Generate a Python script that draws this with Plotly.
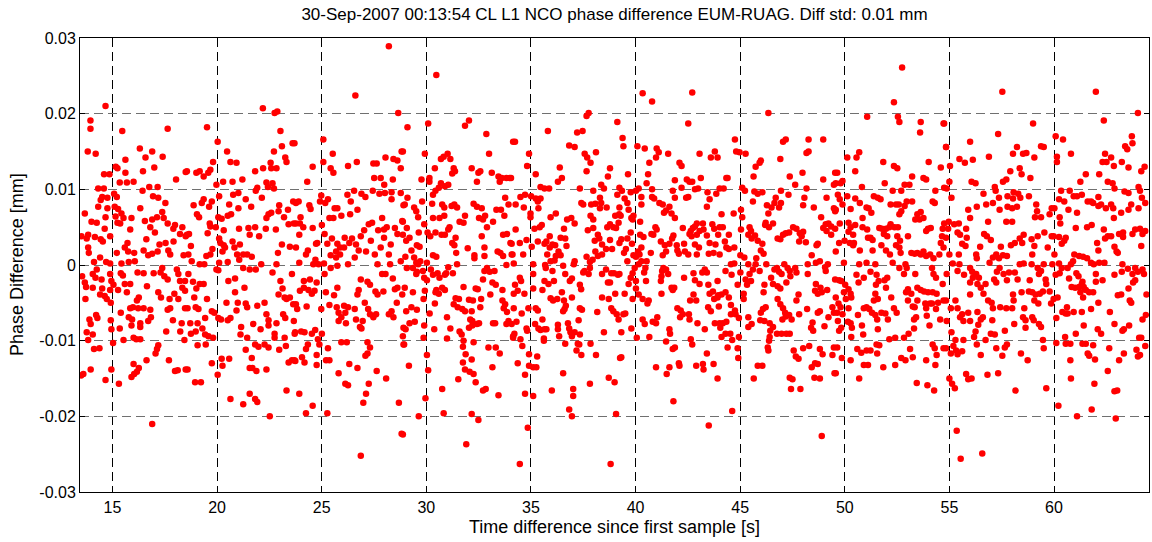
import plotly.graph_objects as go

# Phase difference samples: (time [s], phase difference [micrometre])
seg_a = [(14.67,21.0),(13.95,19.1),(13.95,18.0),(15.47,17.7),(17.64,18.0),(13.82,15.0),(14.20,14.7),(16.31,15.4),(16.9,15.0),(16.58,14.2),(17.4,14.3),(15.62,13.9),(15.16,13.0),(15.24,12.8),(17.0,12.9),(16.46,12.4),(15.62,12.2),(14.6,12.0),(14.86,12.0),(18.5,12.3),(18.04,11.3),(15.35,10.9),(15.69,10.9),(16.01,11.0),
(14.32,10.1),(14.59,10.1),(15.08,9.4),(15.21,9.0),(16.44,9.8),(16.76,10.3),(17.16,10.3),(16.94,9.1),(17.19,8.9),(14.51,9.0),(14.76,8.9),(14.44,8.6),(17.53,8.2),(14.32,7.7),(14.76,7.5),(15.11,7.7),(15.27,7.4),(16.33,7.5),(13.68,6.8),(17.38,7.0),(17.45,6.2),(17.13,6.3),(16.9,6.0),(15.15,6.4),(15.53,6.2),(15.43,6.8),(15.91,6.2),(14.67,6.3),(14.0,5.7),(14.25,5.6),(14.63,4.8),(14.89,3.8),(15.24,5.6),(15.37,5.5),(15.85,4.7),(16.55,5.8),(16.81,5.0),(17.03,4.3),(17.64,5.5),(17.91,4.8),(17.99,5.3),(18.23,4.1),(18.34,5.0),(18.5,3.8),(13.84,4.0),(13.77,3.5),(14.16,3.7),(14.44,3.4),(14.54,3.1),(15.72,2.9),(15.59,2.3),(15.75,1.8),(16.04,1.6),(16.49,1.9),(16.62,3.4),(16.71,1.3),(16.9,1.5),(17.16,1.8),(17.25,2.7),(17.54,2.9),(17.67,1.9),(17.76,1.4),(17.92,3.1),(18.4,1.3),(13.84,2.3),(13.87,1.6),(14.41,1.0),(14.12,0.4),(14.7,0.4),(14.89,0.2),(15.21,1.6),(15.43,0.2),(15.78,0.4),(16.07,0.5),
(14.25,-0.6),(14.06,-1.2),(14.19,-1.7),(13.68,-2.3),(13.74,-2.9),(14.06,-3.0),(14.48,-1.9),(14.51,-3.1),(14.41,-3.9),(14.63,-4.1),(14.73,-4.5),(14.89,-1.2),(14.95,-2.1),(15.05,-2.6),(14.89,-3.3),(14.92,-5.0),(15.27,-3.3),(15.4,-1.1),(15.5,-1.4),(15.59,-2.5),(15.69,-3.6),(15.85,-2.5),(16.2,-1.0),(16.49,-1.1),(16.65,-2.8),(16.26,-4.3),(16.17,-4.7),(16.97,-1.1),(17.3,-1.0),(17.38,-0.4),(17.48,-1.5),(17.64,-1.9),(17.19,-3.6),(17.32,-4.3),(17.73,-4.5),(17.96,-3.8),(18.08,-0.6),(18.15,-1.2),(18.23,-2.1),(18.34,-3.0),(18.15,-4.5),(18.47,-2.1),(18.47,-3.4),(13.71,-4.5),(15.4,-6.3),(15.85,-5.7),(15.98,-5.6),(16.23,-5.7),(16.49,-5.7),(16.81,-5.9),(15.78,-6.9),(15.94,-7.2),(15.91,-8.0),(16.33,-7.7),(16.33,-8.2),(16.84,-6.9),(16.71,-7.4),(17.64,-5.9),(17.76,-5.7),(17.89,-7.3),(18.47,-5.7),(13.9,-7.2),(13.96,-7.8),(14.22,-6.6),(14.28,-7.0),(14.92,-7.3),(14.95,-8.5),(15.35,-8.4),(13.77,-8.9),(14.06,-9.2),(13.84,-9.9),(15.03,-10.3),(15.53,-9.9),(16.01,-9.6),(16.14,-9.8),(16.33,-9.8),(17.57,-8.8),(18.24,-8.8),(18.31,-7.7),(18.44,-9.9),
(14.12,-11.1),(14.38,-11.0),(17.19,-10.6),(17.13,-11.1),(17.06,-11.7),(16.63,-12.6),(16.01,-13.1),(16.26,-13.6),(16.17,-14.1),(16.04,-14.4),(15.91,-14.8),(17.7,-12.6),(17.99,-14.0),(18.12,-13.9),(18.5,-13.8),(13.61,-14.4),(13.96,-13.8),(14.95,-13.8),(14.67,-15.2),(15.31,-15.7),(16.9,-21.0),(13.5,-14.6),(13.52,3.8),(13.55,-1.5)]

seg_b = [(22.19,20.7),(22.75,20.1),(22.88,20.3),(19.52,18.2),(23.03,17.7),(20.03,16.3),(20.48,15.0),(23.61,16.1),(23.1,15.7),(22.72,15.0),(23.26,14.2),(23.32,13.6),(20.64,13.6),(20.93,13.5),(19.81,13.6),(19.68,12.6),(19.58,12.2),(19.17,12.4),(19.36,11.7),(19.01,12.2),(18.56,12.4),(21.82,12.4),(22.2,12.8),(22.56,13.5),(22.59,12.8),(22.84,12.8),(21.21,11.3),(20.74,11.0),(20.29,11.0),(19.97,10.6),(22.36,10.9),(22.65,10.8),(22.43,10.3),(22.72,10.1),(21.92,10.2),(21.85,9.8),(22.14,8.9),(21.02,9.5),(20.77,9.3),(20.1,9.1),(19.36,8.7),(19.27,8.2),(18.88,7.9),(19.62,7.7),(19.75,8.4),(20.58,8.0),(21.02,7.5),(20.67,6.7),(20.51,6.5),(19.04,6.7),(19.14,6.3),(21.37,8.7),(21.63,7.7),(22.97,7.9),(22.94,7.1),(23.39,7.3),(23.64,8.4),(22.46,6.7),(22.36,6.2),(22.59,6.9),(23.2,6.3),(23.42,5.4),(23.67,5.5),(19.65,5.5),(19.68,5.1),(19.55,4.2),(19.94,5.0),(20.22,6.1),(20.06,6.3),(20.32,4.6),(21.05,4.8),(21.5,4.9),(21.56,4.0),(21.82,5.0),(22.01,3.8),(22.33,4.8),(22.81,4.7),(18.56,4.0),(18.66,4.1),(20.1,3.5),(20.16,2.9),(20.32,2.6),(20.38,2.3),(20.26,1.8),(20.74,3.1),(20.83,2.3),(20.96,1.4),(21.09,2.7),(21.25,1.4),(21.44,1.4),(21.66,1.1),(23.1,2.7),(23.48,2.4),(22.91,1.6),(23.77,2.3),(18.75,2.5),(18.63,1.4),(18.79,0.5),(19.17,0.1),(19.39,0.1),(19.68,1.4),(19.78,2.1),(19.49,1.2),(20.1,0.3),(20.06,-0.7),(19.97,-0.6),(20.51,0.4),(21.06,0.7),(21.25,-0.4),(21.56,-0.6),(21.85,-0.6),(22.11,0.1),(22.84,0.1),(22.65,-1.0),
(18.63,-1.2),(18.85,-2.2),(19.17,-2.5),(19.36,-2.5),(19.01,-3.1),(18.91,-4.3),(19.52,-4.5),(18.59,-5.7),(18.98,-5.6),(19.11,-5.8),(20.54,-2.1),(20.86,-1.8),(20.86,-3.6),(21.31,-3.0),(20.45,-5.0),(20.99,-5.0),(21.37,-5.1),(21.44,-5.6),(20.93,-6.0),(20.51,-7.3),(20.64,-7.0),(20.06,-7.0),(19.87,-6.3),(19.75,-6.1),(19.43,-7.0),(19.07,-7.7),(18.72,-7.7),(18.98,-8.8),(19.3,-8.4),(19.43,-9.2),(19.59,-9.4),(19.81,-9.6),(18.75,-9.1),(19.07,-10.6),(19.46,-10.5),(20.19,-7.2),(21.92,-5.4),(22.27,-5.0),(22.36,-6.5),(22.46,-7.3),(22.46,-8.0),(22.08,-8.5),(21.73,-7.8),(21.15,-8.2),(21.12,-9.2),(21.44,-9.6),(21.82,-10.5),(21.98,-10.8),(22.27,-10.5),(22.46,-10.9),(22.75,-9.1),(22.75,-9.6),(22.84,-7.7),(22.97,-11.2),(23.23,-9.6),(23.29,-10.7),(22.94,-3.9),(23.03,-2.1),(23.13,-3.1),(23.23,-4.3),(23.32,-4.5),(23.48,-4.3),(23.64,-5.2),(23.16,-6.5),(23.26,-7.0),(23.67,-7.4),(23.58,-1.2),(23.71,-9.1),(21.37,-11.2),(21.66,-12.3),(21.56,-13.6),(21.69,-13.6),(21.88,-14.0),(22.36,-13.8),(20.22,-12.4),(20.26,-13.3),(20.58,-12.4),(19.75,-13.0),(20.03,-14.5),(18.59,-13.8),(18.95,-15.5),(19.23,-15.5),(23.42,-12.9),(23.58,-12.6),(23.74,-12.7),(23.32,-16.6),(20.64,-17.7),(21.25,-18.4),(21.56,-17.0),(21.82,-17.7),(21.92,-18.1),(22.52,-20.0)]

seg_c = [(28.21,28.9),(26.61,22.4),(28.66,20.1),(23.7,16.1),(25.08,16.6),(25.53,14.7),(25.08,13.6),(24.57,13.0),(25.43,12.8),(25.56,12.2),(24.31,11.0),(26.26,13.1),(26.68,13.6),(27.47,13.4),(27.63,13.4),(28.05,14.2),(28.43,14.0),(28.62,13.8),(28.78,12.8),(28.82,15.0),(27.51,11.5),(27.82,11.5),(28.4,11.3),(27.99,10.6),(26.55,9.8),(26.9,9.4),(27.09,9.0),(27.44,9.8),(27.76,9.4),(28.02,9.5),(28.34,9.6),(28.34,8.7),(28.78,9.5),(28.91,7.9),(26.23,9.3),(26.39,8.4),(26.71,7.3),(26.36,6.7),(25.94,6.5),(25.62,7.5),(25.75,7.5),(25.37,6.2),(25.56,6.2),(24.98,9.2),(24.92,8.4),(25.3,8.7),(25.17,8.2),(23.77,8.2),(23.9,8.4),(24.41,7.9),(24.47,7.4),(23.99,6.3),(23.77,5.5),(23.96,5.5),(24.12,5.0),(23.93,4.0),(24.57,4.9),(25.01,5.3),(25.14,4.1),(25.49,3.5),(25.75,2.8),(25.88,2.3),(25.69,1.8),(25.43,1.3),(25.27,2.8),(24.73,2.8),(24.79,2.9),(24.34,1.9),(24.25,1.4),(23.93,0.3),(24.6,0.1),(24.7,0.7),(24.85,0.1),(25.11,0.2),(25.69,1.0),(25.88,1.4),(26.07,2.3),(26.1,3.6),(26.45,3.5),(26.32,2.9),(26.64,2.7),(26.77,1.9),(26.58,1.0),(26.26,0.1),(26.87,3.8),(27.03,4.6),(27.25,5.4),(27.41,5.6),(27.35,3.2),(27.7,4.6),(27.89,6.2),(27.98,4.7),(28.11,5.0),(27.98,3.6),(27.82,2.3),(28.3,2.7),(28.5,4.9),(28.62,4.1),(28.85,5.8),(28.88,4.0),(28.21,1.4),(27.54,1.4),(27.12,1.8),(27.67,0.1),(27.89,-1.2),(28.05,-1.2),(28.4,-1.8),(28.27,0.1),(28.78,0.5),
(25.75,-0.1),(25.43,-0.4),(25.14,-1.2),(24.44,-1.9),(24.15,-2.1),(24.15,-3.0),(23.96,-3.4),(24.37,-3.3),(24.53,-3.8),(24.76,-2.3),(24.66,-3.4),(25.2,-3.6),(24.28,-5.5),(23.77,-5.2),(23.83,-5.8),(24.98,-5.8),(25.37,-5.3),(25.59,-4.0),(25.75,-3.0),(25.72,-5.6),(25.81,-6.3),(25.94,-6.9),(26.07,-5.4),(26.13,-6.3),(26.26,-5.6),(25.81,-7.4),(26.16,-7.7),(26.64,-7.2),(26.58,-5.8),(26.71,-3.9),(26.77,-3.3),(26.87,-1.9),(27.19,-2.2),(27.31,-2.6),(27.57,-3.5),(27.67,-3.9),(27.95,-3.5),(27.06,-5.0),(27.22,-5.8),(27.31,-6.5),(27.47,-6.9),(27.6,-6.5),(26.96,-7.4),(26.83,-8.2),(26.9,-8.4),(28.21,-6.5),(28.34,-6.1),(28.43,-6.9),(28.59,-5.0),(28.5,-3.2),(28.62,-3.0),(28.85,-3.9),(28.91,-8.3),(28.91,-10.5),(23.73,-8.9),(24.02,-8.8),(24.18,-8.9),(24.53,-9.1),(24.69,-8.6),(24.82,-9.8),(25.01,-9.1),(24.89,-10.5),(24.34,-10.5),(24.25,-11.1),(24.06,-12.2),(24.18,-12.9),(23.7,-12.6),(24.76,-11.9),(24.76,-13.2),(25.21,-12.6),(25.37,-12.6),(25.3,-11.0),(25.94,-10.2),(26.2,-10.2),(27.19,-10.2),(27.31,-10.9),(27.19,-11.7),(27.09,-12.0),(26.32,-13.1),(26.71,-13.6),(25.81,-14.3),(26.13,-15.7),(26.26,-15.9),(27.63,-14.0),(28.08,-15.0),(27.25,-15.7),(27.12,-17.0),(26.99,-18.2),(23.93,-17.0),(24.57,-18.6),(24.25,-19.6),(25.27,-19.6),(28.69,-18.2),(28.82,-22.3),(26.87,-25.2)]

seg_d = [(30.48,25.1),(30.09,18.7),(29.1,18.2),(31.85,18.4),(32.04,19.1),(32.87,17.3),(34.15,16.3),(28.88,15.0),(29.93,14.7),(30.7,14.0),(30.83,14.3),(31.02,14.7),(31.15,14.0),(30.41,12.8),(31.31,12.8),(31.37,12.4),(31.24,12.1),(32.17,12.8),(32.49,12.2),(32.58,12.4),(32.42,11.0),(33.0,14.7),(33.13,12.2),(33.45,11.7),(33.61,11.5),(33.51,11.0),(33.83,11.5),(33.99,11.5),(29.77,11.3),(30.15,11.5),(30.15,11.0),(30.7,10.8),(30.89,10.4),(31.05,10.6),(30.6,10.2),(30.44,9.8),(30.32,9.3),(29.1,8.9),(28.97,8.0),(29.8,8.4),(29.42,7.6),(29.52,7.1),(29.61,6.3),(30.28,8.1),(30.32,6.2),(30.63,6.2),(30.76,8.0),(30.86,7.6),(30.86,6.5),(31.21,7.8),(31.34,8.0),(31.47,7.6),(31.85,6.5),(31.59,5.7),(31.78,5.6),(32.26,8.1),(32.42,7.7),(32.65,7.5),(32.52,6.2),(32.71,6.0),(32.81,6.5),(32.9,5.0),(33.19,5.7),(33.35,7.3),(33.57,7.3),(33.77,8.9),(33.93,8.0),(33.73,6.5),(33.67,4.0),(33.86,4.1),(34.02,2.9),(29.07,4.9),(28.88,5.7),(29.2,3.6),(29.04,3.2),(29.64,4.3),(29.9,5.4),(30.06,4.3),(30.19,3.8),(30.44,4.3),(30.73,4.0),(30.89,4.0),(31.05,4.7),(31.11,5.0),(31.40,3.6),(31.24,2.9),(31.34,2.6),(31.43,1.6),(31.98,2.2),(32.3,1.3),(32.3,0.9),(32.65,3.8),(32.78,2.3),(32.78,1.2),(33.41,1.8),(33.54,1.6),(33.67,1.2),(33.83,0.0),(34.12,1.4),(29.55,2.6),(29.68,2.4),(29.29,1.9),(29.0,1.1),(29.42,1.0),(29.52,0.3),(29.61,0.1),(29.71,0.5),(30.03,0.3),(30.32,1.3),(30.48,1.1),
(29.07,-0.4),(29.36,-0.4),(29.55,-0.9),(29.52,-1.2),(29.84,-0.8),(29.9,-1.7),(30.03,-2.0),(30.22,-0.6),(30.32,-1.3),(30.54,-1.1),(30.63,-1.7),(30.89,-1.3),(30.95,-1.1),(31.05,-0.3),(31.27,-1.1),(31.47,0.1),(31.78,-2.9),(30.89,-3.3),(30.48,-3.3),(30.44,-3.6),(30.6,-3.8),(30.76,-3.0),(30.41,-5.1),(29.87,-4.5),(29.93,-3.4),(29.36,-3.6),(28.97,-3.0),(29.04,-6.1),(29.29,-5.6),(29.55,-5.9),(30.16,-6.4),(29.2,-7.7),(29.45,-7.5),(29.01,-8.5),(30.38,-8.5),(29.9,-8.0),(30.99,-6.9),(31.15,-8.4),(31.31,-5.2),(31.40,-4.4),(31.56,-4.5),(31.5,-5.6),(31.72,-5.8),(31.85,-6.1),(32.04,-4.6),(32.23,-4.7),(32.36,-3.1),(32.46,-3.2),(32.62,-4.5),(32.58,-5.6),(32.17,-6.1),(32.1,-7.2),(32.2,-7.4),(32.2,-8.0),(32.42,-7.8),(32.52,-7.7),(32.04,-8.3),(31.59,-8.8),(31.69,-9.2),(31.78,-10.0),(30.99,-9.7),(29.87,-9.6),(28.88,-9.4),(28.94,-10.5),(32.71,-1.9),(32.78,-0.8),(32.9,-0.4),(33.03,-0.9),(33.26,-0.8),(33.16,-2.3),(33.32,-2.6),(33.06,-3.9),(33.64,-3.3),(33.64,-4.7),(33.77,-5.2),(33.7,-5.7),(33.86,-6.2),(33.19,-7.7),(33.29,-7.7),(33.83,-7.8),(33.93,-7.4),(34.15,-9.4),(32.26,-10.2),(31.75,-10.8),(31.88,-11.8),(31.75,-12.9),(31.85,-13.8),(32.07,-14.1),(32.26,-14.4),(32.17,-12.5),(32.36,-15.5),(31.53,-15.1),(32.97,-10.9),(33.32,-10.9),(33.51,-11.7),(33.16,-13.5),(29.17,-13.3),(30.03,-11.9),(30.09,-13.9),(30.76,-16.4),(32.71,-16.6),(32.84,-16.4),(33.45,-17.2),(29.96,-17.6),(29.64,-20.0),(30.83,-19.6),(32.17,-19.7),(32.49,-20.5),(28.88,-22.4),(31.91,-23.7)]

seg_e = [(37.76,20.1),(37.66,19.7),(39.13,18.9),(35.81,17.7),(37.21,17.5),(37.47,17.7),(34.24,16.3),(36.83,15.8),(37.09,15.6),(38.11,14.9),(34.91,14.7),(37.57,14.7),(37.69,14.2),(37.85,13.5),(34.82,13.1),(36.38,12.9),(38.78,12.8),(37.66,12.4),(36.48,11.5),(36.29,11.0),(35.23,12.0),(38.68,11.7),(38.36,10.6),(34.05,11.5),(35.46,10.3),(35.65,10.1),(35.87,10.1),(37.34,10.1),(37.98,9.8),(38.49,10.1),(39.13,9.3),(34.5,9.0),(34.72,9.3),(35.01,9.1),(35.23,8.8),(35.46,8.8),(35.33,8.4),(34.27,8.0),(34.66,7.6),(35.36,7.5),(34.98,6.8),(34.98,6.3),(35.94,6.3),(36.19,6.8),(37.41,8.2),(37.5,8.0),(37.88,8.0),(38.08,8.1),(38.3,8.9),(38.36,8.2),(38.62,7.6),(38.3,7.5),(37.85,6.5),(37.98,6.0),(36.93,6.2),(37.09,5.5),(36.73,6.0),(39.03,6.5),(39.22,6.7),(38.78,5.4),(38.65,5.0),(38.94,5.0),(39.07,4.9),(39.19,5.6),(34.27,4.7),(35.17,4.8),(35.52,5.3),(35.42,5.0),(36.58,4.8),(37.72,4.6),(37.98,4.9),(38.2,4.0),(38.27,3.5),(38.05,3.2),(38.4,2.7),(38.59,2.1),(38.78,3.3),(38.88,2.1),(39.23,2.9),(34.08,2.8),(34.47,2.9),(34.79,3.3),(35.04,2.4),(35.33,3.1),(35.65,2.8),(35.74,3.1),(35.9,3.8),(36.03,2.7),(35.9,2.3),(36.16,2.6),(36.42,3.6),(36.64,3.5),(36.7,2.5),(36.32,1.8),(36.19,1.2),(36.42,1.3),(36.13,0.6),(35.94,0.5),(35.78,1.4),(35.68,0.0),(35.71,-0.4),(37.09,0.5),(37.05,0.1),(37.66,1.1),(37.82,0.4),(37.95,0.7),(38.08,1.8),(38.2,1.2),(38.4,1.4),(37.56,-0.8),(37.5,-1.0),(37.76,-1.2),(37.82,-0.4),(36.54,-0.1),(36.64,-1.2),(36.86,-2.1),(36.96,-1.8),(36.03,-0.8),(36.1,-2.1),(35.65,-2.1),(35.84,-2.5),(34.08,1.4),(34.18,0.2),(34.63,1.4),(35.11,0.1),(35.11,-1.2),(34.47,-1.7),(34.53,-2.1),(34.24,-2.6),(34.37,-3.4),(34.18,-3.8),(34.69,-3.8),(35.11,-3.1),(35.55,-3.3),
(35.94,-4.4),(36.06,-4.7),(36.26,-4.5),(36.48,-3.6),(36.58,-4.7),(36.67,-5.4),(36.61,-5.8),(36.54,-6.1),(36.96,-4.3),(37.34,-2.6),(37.4,-3.2),(37.34,-5.7),(37.44,-5.9),(37.28,-7.3),(38.17,-6.2),(38.4,-4.3),(38.72,-4.5),(38.4,-1.2),(38.59,-0.6),(38.68,-2.3),(38.78,-2.3),(38.84,-1.1),(38.97,-1.1),(39.16,-1.3),(39.03,-3.8),(38.84,-5.7),(38.94,-6.1),(39.1,-6.5),(39.19,-7.2),(34.18,-5.7),(34.56,-6.4),(34.88,-5.7),(35.23,-5.7),(35.33,-6.0),(35.55,-7.2),(35.2,-7.8),(35.36,-8.4),(35.46,-8.6),(35.65,-8.5),(35.74,-8.5),(36.29,-7.9),(36.29,-8.5),(36.35,-9.4),(36.77,-7.7),(36.83,-8.4),(36.89,-8.9),(36.96,-9.4),(37.09,-8.9),(37.34,-9.2),(37.24,-10.4),(37.31,-10.5),(37.18,-11.3),(37.41,-11.9),(36.64,-10.4),(35.62,-9.7),(35.62,-10.0),(34.79,-8.4),(34.82,-8.7),(34.21,-9.1),(34.15,-9.6),(34.5,-9.8),(34.59,-10.7),(34.08,-7.8),(34.31,-7.5),(38.49,-8.9),(37.85,-10.4),(38.11,-11.9),(39.26,-12.3),(34.37,-13.0),(34.91,-11.8),(34.91,-13.3),(35.11,-13.5),(35.26,-13.5),(35.3,-12.1),(34.72,-14.5),(36.54,-14.3),(37.82,-15.7),(38.72,-14.9),(39.0,-15.5),(34.72,-17.0),(35.11,-17.3),(36.0,-16.6),(37.02,-16.4),(37.02,-17.3),(36.83,-19.1),(36.96,-20.0),(39.07,-19.7),(34.85,-21.5),(34.47,-26.3),(38.81,-26.3)]

seg_f = [(40.34,22.7),(40.79,21.6),(42.71,22.8),(42.52,18.7),(39.38,16.8),(39.42,15.7),(40.09,15.7),(40.44,15.4),(41.01,15.4),(41.11,14.9),(40.98,14.2),(41.56,14.7),(40.66,13.5),(42.1,13.5),(42.2,13.1),(43.06,14.7),(43.79,15.0),(43.6,14.2),(43.92,14.2),(39.64,12.0),(40.6,12.0),(40.53,10.8),(41.88,11.2),(42.45,11.3),(42.58,11.0),(42.71,11.0),(43.12,11.5),(44.34,11.5),(42.2,10.2),(42.99,10.1),(43.44,9.6),(44.02,10.1),(43.86,9.4),(44.21,10.1),(39.23,10.2),(39.35,9.8),(39.77,9.6),(40.02,9.8),(40.15,10.1),(39.48,8.8),(39.61,8.2),(40.28,9.0),(40.28,8.0),(40.79,10.0),(40.79,9.0),(40.89,8.8),(41.14,8.2),(41.3,8.0),(41.46,7.2),(41.36,6.9),(41.62,7.7),(41.72,6.8),(41.88,6.2),(41.78,9.8),(41.88,8.9),(42.42,8.9),(42.52,9.0),(42.84,10.0),(43.54,8.7),(43.41,7.7),(44.11,6.7),(39.23,7.6),(39.29,6.5),(39.67,7.3),(39.8,6.2),(39.9,6.5),(39.86,6.0),(40.22,5.7),(39.77,4.3),(39.61,3.5),(39.32,3.4),(39.83,2.8),(40.22,4.0),(40.38,3.7),(40.76,4.1),(40.85,4.0),(40.95,5.0),(41.01,4.7),(41.21,3.1),(41.4,2.6),(41.3,1.3),(41.46,1.8),(41.62,2.8),(41.75,3.5),(41.81,3.9),(41.97,2.6),(42.0,1.9),(42.07,1.5),(42.26,4.9),(42.32,2.8),(42.36,1.8),(42.52,1.4),(42.58,4.1),(42.64,4.5),(42.74,4.9),(42.84,5.1),(42.93,5.5),(42.68,3.8),(42.93,4.0),(43.06,4.5),(42.84,2.7),(43.03,2.3),(42.93,1.4),(43.22,5.5),(43.25,4.7),(43.41,3.9),(43.54,2.9),(43.67,5.4),(43.76,4.8),(44.02,5.0),(43.95,4.0),(44.17,5.0),(44.27,3.1),(43.82,2.7),(43.5,1.5),(43.73,1.6),(44.02,1.4),(44.34,2.3),(39.54,2.1),(39.45,1.6),(39.9,1.3),(40.12,1.8),(40.28,2.3),(40.19,1.4),(40.02,1.1),(39.61,0.5),(40.28,0.5),(40.73,1.6),(40.53,0.5),
(40.47,-0.4),(40.41,-1.0),(40.15,0.1),(39.96,-0.4),(39.86,-1.1),(39.77,-1.7),(39.67,-2.5),(39.48,-3.8),(39.23,-1.2),(40.02,-2.1),(40.02,-3.1),(39.86,-4.5),(40.15,-3.9),(40.34,-4.5),(40.5,-2.1),(41.21,-2.1),(41.27,-0.8),(41.33,-0.4),(41.46,-0.6),(41.56,-1.2),(41.24,-1.5),(41.72,-3.0),(41.78,-3.3),(41.85,-3.0),(42.32,-1.7),(42.77,-1.1),(42.84,-2.0),(42.77,-3.9),(43.06,-2.5),(43.19,-1.0),(43.31,-0.6),(43.41,-1.0),(43.48,-2.6),(43.54,-3.8),(43.7,-3.5),(43.92,-2.1),(43.95,-4.0),(44.11,-3.9),(44.3,-3.6),(44.3,-0.8),(41.24,-3.8),(40.63,-4.7),(40.57,-5.1),(39.42,-6.5),(39.51,-6.4),(39.8,-8.4),(39.32,-8.9),(40.06,-9.6),(40.34,-7.2),(40.44,-7.8),(40.66,-9.5),(40.82,-7.5),(40.98,-7.7),(41.04,-6.9),(42.0,-5.7),(42.16,-6.0),(42.13,-6.9),(42.26,-6.5),(42.58,-7.2),(42.55,-6.5),(42.61,-4.7),(42.9,-4.7),(42.96,-7.7),(43.31,-8.5),(43.47,-5.6),(43.6,-6.1),(43.76,-4.5),(43.92,-4.3),(43.98,-5.5),(43.79,-7.7),(44.02,-7.7),(44.05,-8.3),(44.11,-9.5),(44.17,-7.7),(44.34,-7.5),(44.3,-9.1),(41.62,-8.5),(41.65,-9.1),(41.46,-10.1),(42.64,-9.8),(42.71,-10.5),(39.32,-12.2),(40.98,-13.5),(41.62,-13.5),(41.49,-14.4),(41.78,-11.1),(41.88,-10.9),(42.07,-13.0),(42.1,-13.3),(42.9,-13.3),(43.22,-13.1),(43.25,-13.8),(43.41,-11.7),(43.73,-13.1),(43.92,-15.0),(44.4,-10.9),(41.81,-18.0),(43.5,-21.2)]

seg_g = [(46.35,20.1),(44.75,16.6),(47.18,16.6),(47.05,16.3),(48.27,16.6),(48.97,16.6),(44.81,15.0),(44.97,14.9),(45.26,14.7),(46.92,14.0),(45.99,13.8),(45.93,13.5),(45.74,13.0),(48.27,15.0),(48.17,14.8),(47.98,12.2),(47.37,11.7),(47.63,10.6),(48.97,11.3),(49.54,12.2),(44.4,11.5),(45.64,11.7),(45.1,10.2),(45.23,9.8),(45.68,9.7),(45.84,9.4),(46.06,9.6),(46.95,9.8),(47.31,9.3),(48.17,10.1),(48.07,8.9),(49.48,10.6),(49.13,8.9),(45.61,8.4),(46.7,8.9),(46.64,8.2),(46.86,7.6),(46.28,7.9),(46.5,7.6),(46.35,6.8),(46.95,8.2),(48.01,7.9),(48.52,7.6),(48.87,6.3),(49.48,7.5),(49.54,7.1),(44.69,6.8),(45.04,7.3),(45.1,6.3),(45.04,4.7),(45.45,5.0),(45.52,4.5),(45.39,4.0),(45.55,3.5),(45.71,3.9),(45.84,3.2),(46.06,2.8),(46.22,5.6),(46.19,5.3),(46.38,5.0),(46.57,5.5),(46.79,3.5),(46.92,3.4),(47.05,4.0),(47.18,4.2),(47.34,4.3),(47.53,5.0),(47.69,4.8),(47.85,4.2),(47.94,3.8),(48.01,4.4),(47.82,3.1),(48.14,3.0),(48.71,2.8),(48.65,2.6),(48.97,4.9),(49.09,5.4),(49.22,5.5),(49.35,5.1),(49.13,4.5),(49.35,4.0),(49.54,4.8),(44.46,4.0),(44.46,2.1),(44.72,2.3),(45.01,1.3),(45.2,1.0),(45.39,0.1),(45.74,0.1),(45.99,1.9),(46.12,1.5),(45.77,0.9),
(45.93,-0.8),(45.61,-0.6),(45.45,-1.2),(45.26,-1.9),(45.52,-2.1),(45.33,-2.6),(45.01,-1.0),(44.56,0.1),(44.72,0.2),(44.59,-1.3),(44.88,-2.6),(46.25,0.1),(46.64,-0.6),(46.76,-0.4),(46.86,-0.9),(46.98,-1.2),(47.11,0.1),(47.27,-0.4),(47.37,-0.8),(47.63,-0.4),(47.69,-1.0),(47.4,-1.5),(47.21,-2.3),(46.48,-1.7),(46.57,-2.5),(46.79,-2.8),(46.92,-3.1),(48.23,0.1),(48.42,1.3),(48.62,0.3),(48.81,0.5),(49.06,-0.3),(49.19,0.1),(49.09,-0.8),(49.54,-1.9),(48.23,-1.2),(48.62,-2.5),(48.58,-3.4),(48.84,-3.0),(48.71,-3.8),(48.9,-3.6),(49.16,-3.3),(47.69,-4.7),(47.79,-3.9),(46.16,-2.6),(46.12,-3.6),(44.46,-4.3),(44.56,-5.3),(44.75,-6.0),(44.78,-6.5),(44.56,-6.5),(44.94,-7.0),(45.17,-3.8),(45.17,-4.5),(45.39,-6.9),(45.55,-7.8),(45.99,-6.3),(46.09,-5.8),(46.22,-5.6),(45.96,-7.3),(46.16,-7.4),(46.79,-4.5),(46.92,-5.2),(47.05,-5.7),(47.15,-6.3),(47.34,-6.6),(47.46,-7.2),(47.18,-6.8),(47.02,-7.2),(47.82,-6.5),(48.2,-5.8),(48.46,-7.6),(48.39,-8.3),(48.49,-8.7),(48.71,-6.3),(48.81,-6.1),(49.03,-8.1),(49.22,-6.9),(49.41,-5.6),(49.48,-6.3),(44.53,-9.1),(44.62,-9.9),(44.94,-9.5),(45.39,-8.2),(46.41,-7.7),(46.44,-8.7),(46.41,-9.5),(46.38,-10.0),(46.57,-8.2),(46.76,-9.1),(46.98,-9.1),(47.21,-9.1),(47.37,-9.1),(46.32,-10.9),(46.35,-11.3),(47.56,-11.3),(47.66,-12.1),(47.79,-12.4),(48.01,-11.0),(48.3,-10.7),(48.42,-13.5),(48.58,-13.0),(48.71,-13.1),(48.55,-14.9),(48.81,-15.0),(48.81,-11.1),(48.94,-11.8),(49.41,-11.9),(49.48,-10.9),(49.51,-14.3),(44.88,-11.0),(44.91,-12.3),(45.84,-13.3),(46.06,-13.3),(45.65,-15.0),(47.37,-14.9),(47.5,-15.1),(47.43,-16.4),(47.88,-16.4),(44.62,-19.3),(48.9,-22.6)]

seg_h = [(52.74,26.1),(52.35,21.5),(52.54,19.6),(52.61,18.9),(53.63,18.9),(53.6,17.5),(51.07,19.6),(54.72,18.7),(54.84,15.6),(50.69,14.9),(50.56,14.2),(50.5,12.4),(50.12,14.2),(51.84,13.6),(52.35,13.1),(52.51,12.8),(54.01,13.6),(54.59,12.9),(53.76,11.5),(53.89,11.3),(53.22,11.7),(49.64,12.2),(49.57,10.8),(49.8,10.8),(49.89,11.1),(50.82,10.3),(51.91,10.8),(52.86,10.6),(53.09,10.6),(52.29,9.8),(52.7,9.8),(54.33,9.8),(54.75,10.2),(49.67,9.3),(49.76,8.7),(50.12,9.1),(50.5,8.8),(50.72,8.2),(51.04,7.6),(51.14,7.5),(51.27,6.9),(51.39,9.1),(51.58,8.9),(51.71,8.7),(52.19,8.0),(52.45,8.0),(52.58,8.0),(52.96,8.4),(52.86,7.8),(53.22,8.4),(52.7,7.1),(52.61,6.7),(53.47,6.7),(53.63,7.0),(53.76,6.2),(54.2,8.4),(54.3,8.2),(53.37,6.0),(53.57,6.0),(53.89,4.5),(53.98,4.8),(54.11,4.9),(54.68,4.8),(54.65,3.8),(54.59,2.9),(49.57,7.3),(49.89,8.0),(50.28,7.4),(49.76,5.5),(50.18,5.6),(50.28,5.0),(50.18,4.4),(50.5,5.3),(50.4,4.0),(50.85,6.2),(50.85,5.0),(51.07,4.7),(51.11,3.6),(51.33,3.3),(51.23,3.6),(51.65,4.9),(51.78,4.8),(51.87,4.1),(51.97,4.8),(52.03,3.8),(52.13,5.0),(52.19,5.4),(52.38,5.0),(52.54,5.0),(52.51,3.8),(52.64,3.2),(52.45,2.6),(52.61,2.3),(52.67,1.6),(53.02,3.8),(49.73,2.9),(49.99,3.2),(50.24,2.9),(50.4,2.6),(50.44,2.9),(50.72,1.9),(51.33,1.9),(51.75,2.6),(51.97,1.9),(52.16,1.4),(53.18,1.6),(53.34,1.5),(53.47,1.6),(53.63,1.4),(53.76,1.8),(53.89,1.2),(54.08,1.4),(54.24,0.9),(54.52,1.4),(54.72,2.3),(49.57,1.8),(49.96,0.3),(50.69,0.1),(51.04,0.3),(51.46,0.1),(52.29,0.3),
(52.61,-0.4),(52.9,0.1),(52.96,-0.4),(52.83,-1.2),(53.37,-1.2),(54.17,-0.4),(54.24,-1.2),(54.36,-1.7),(54.68,-2.5),(49.73,-2.0),(49.83,-2.1),(50.02,-2.6),(50.18,-3.2),(50.56,-1.3),(50.66,-2.3),(50.91,-1.7),(51.23,-0.9),(51.52,-1.3),(51.49,-2.6),(51.62,-2.1),(51.9,-2.0),(52.03,-1.7),(51.97,-3.0),(49.96,-3.6),(50.28,-3.8),(50.31,-4.3),(50.05,-4.5),(49.57,-4.3),(49.7,-5.1),(49.8,-5.6),(51.46,-3.8),(51.39,-4.7),(51.58,-4.5),(52.22,-4.3),(52.93,-3.6),(53.02,-3.2),(53.18,-3.8),(53.47,-3.0),(53.63,-3.3),(53.79,-3.5),(53.98,-3.6),(54.2,-3.6),(54.39,-3.8),(53.02,-4.7),(53.25,-5.5),(53.34,-5.6),(53.47,-4.7),(53.85,-5.1),(54.08,-5.1),(54.17,-5.1),(53.89,-5.7),(54.36,-5.8),(54.46,-5.0),(54.72,-4.7),(49.64,-6.3),(49.89,-6.5),(50.18,-5.7),(50.63,-6.6),(50.91,-5.7),(51.04,-5.6),(51.17,-5.8),(51.3,-6.3),(51.46,-6.6),(51.55,-7.2),(51.75,-6.3),(51.94,-6.4),(52.06,-7.2),(52.35,-5.7),(52.48,-6.3),(53.41,-6.9),(53.31,-7.2),(53.92,-6.7),(54.05,-8.0),(54.56,-7.2),(49.67,-7.4),(49.83,-8.3),(49.73,-8.7),(50.15,-7.5),(50.28,-7.7),(50.34,-8.3),(50.82,-8.0),(51.58,-8.5),(50.31,-9.5),(50.88,-9.2),(52.13,-9.8),(52.41,-9.6),(52.83,-9.6),(53.05,-9.1),(53.31,-8.4),(49.64,-10.9),(49.86,-12.3),(50.28,-12.6),(49.57,-14.3),(50.6,-11.1),(50.79,-11.6),(51.04,-11.3),(51.23,-11.3),(51.55,-11.7),(51.52,-10.5),(51.65,-10.6),(50.91,-13.2),(51.11,-13.2),(51.84,-13.5),(52.41,-13.2),(52.7,-12.3),(52.9,-12.6),(53.12,-11.1),(53.25,-12.2),(53.89,-12.6),(54.2,-10.5),(54.3,-11.0),(54.39,-11.9),(54.33,-13.2),(54.72,-11.0),(50.69,-15.0),(53.44,-15.6),(53.95,-15.9),(54.27,-16.6)]

seg_i = [(57.53,22.9),(59.0,18.7),(57.33,17.3),(54.75,18.7),(55.99,16.3),(59.38,15.7),(59.51,15.6),(54.84,15.6),(55.48,14.0),(55.74,13.5),(56.12,13.9),(56.89,14.3),(58.04,14.7),(58.23,15.6),(58.52,14.7),(58.68,14.8),(59.06,14.2),(55.03,13.1),(58.36,12.8),(58.45,12.0),(57.91,12.4),(58.87,11.5),(57.72,11.3),(57.56,11.0),(56.06,11.0),(56.25,10.8),(55.0,11.0),(54.87,10.1),(55.1,8.9),(57.17,10.3),(57.21,9.8),(57.37,8.9),(57.78,9.1),(58.07,9.6),(58.29,9.4),(58.39,8.9),(58.8,9.1),(58.04,8.8),(56.63,9.4),(56.76,8.0),(57.08,8.2),(57.4,7.3),(57.78,7.7),(58.0,7.5),(58.23,7.7),(56.31,7.7),(55.9,7.3),(55.99,6.2),(56.85,5.7),(57.72,5.7),(58.0,5.7),(59.15,8.0),(59.19,7.1),(59.09,6.3),(59.38,6.3),(59.79,6.7),(59.89,7.5),(54.75,5.5),(54.97,5.7),(55.23,5.4),(55.45,5.5),(54.94,4.8),(55.39,4.3),(55.51,4.0),(55.8,4.8),(55.83,3.6),(55.61,2.8),(55.77,2.5),(56.66,4.1),(56.79,3.8),(56.98,3.3),(56.47,2.4),(57.46,2.4),(57.94,2.6),(58.13,2.9),(58.36,3.5),(58.55,4.0),(58.48,2.9),(58.93,3.4),(59.06,2.5),(58.96,1.4),(59.22,3.8),(59.54,4.3),(59.89,3.8),(59.7,2.3),(54.84,3.6),(55.0,1.4),(55.45,1.4),(55.48,0.1),(55.16,0.2),
(54.87,-1.2),(55.39,-0.8),(55.7,-1.3),(55.99,-0.4),(56.09,-0.9),(56.28,1.4),(56.31,0.9),(56.28,-1.2),(56.12,-1.7),(55.99,-2.3),(56.41,-1.7),(56.34,-2.5),(56.5,-3.0),(56.63,-3.8),(56.73,-2.5),(56.92,0.3),(57.08,1.0),(57.24,1.4),(57.37,0.9),(57.56,1.3),(57.75,1.2),(57.4,-0.4),(57.27,-0.9),(57.14,-1.9),(57.24,-2.3),(57.59,-1.2),(57.75,-2.0),(57.85,-1.0),(58.13,-1.0),(58.26,-1.9),(58.36,0.1),(58.55,0.2),(58.84,-2.0),(58.93,0.1),(59.22,-0.4),(59.38,-0.8),(59.28,-1.2),(59.51,0.1),(59.6,-1.9),(59.63,-2.5),(59.92,0.1),(54.84,-4.7),(55.07,-5.7),(55.39,-5.7),(55.29,-4.7),(55.51,-6.9),(55.61,-6.5),(55.9,-6.3),(55.99,-3.9),(56.34,-6.2),(56.5,-7.2),(56.6,-6.9),(57.05,-7.3),(56.85,-4.7),(57.02,-5.0),(57.08,-5.7),(57.43,-5.6),(57.72,-5.7),(58.0,-5.7),(58.04,-3.9),(58.07,-4.7),(58.45,-3.6),(58.8,-3.5),(58.96,-3.6),(59.12,-3.9),(59.32,-3.8),(59.47,-3.5),(59.79,-3.5),(59.86,-5.1),(59.06,-4.7),(59.25,-5.1),(58.58,-5.7),(58.52,-6.9),(58.64,-7.3),(58.64,-8.3),(58.96,-6.9),(59.03,-7.3),(59.28,-7.8),(59.38,-8.2),(58.1,-7.8),(57.65,-8.7),(56.98,-9.1),(57.17,-9.2),(54.87,-7.4),(55.1,-8.9),(55.67,-7.4),(55.99,-7.4),(56.25,-8.8),(56.38,-7.9),(56.18,-9.5),(55.67,-9.9),(55.29,-9.9),(54.84,-11.0),(55.19,-10.7),(55.32,-11.3),(55.39,-11.8),(55.07,-11.7),(55.61,-11.4),(56.31,-10.5),(56.50,-11.9),(56.73,-9.9),(57.24,-11.0),(57.65,-10.9),(57.75,-10.5),(57.53,-12.0),(58.42,-11.7),(59.47,-9.9),(59.51,-11.0),(58.74,-12.6),(55.0,-15.0),(55.13,-15.7),(55.26,-16.3),(55.8,-14.4),(55.9,-15.1),(56.06,-15.0),(56.82,-14.5),(57.33,-14.3),(58.16,-16.6),(59.63,-16.3),(55.35,-21.9),(55.54,-25.6),(56.57,-24.9)]

seg_j = [(62.0,22.9),(64.01,20.1),(62.38,19.1),(60.08,17.0),(60.43,16.6),(63.72,17.0),(63.75,16.1),(63.4,15.7),(63.5,15.3),(60.14,14.3),(60.14,13.6),(60.81,14.7),(62.44,14.7),(62.32,13.6),(62.51,13.6),(62.73,14.2),(62.86,13.1),(63.24,13.6),(63.56,12.9),(64.17,12.4),(64.33,13.0),(61.52,12.0),(61.26,11.0),(62.16,12.0),(62.57,11.0),(62.8,10.8),(62.89,10.1),(64.04,10.3),(64.11,9.8),(63.56,9.5),(63.37,9.7),(60.34,9.8),(60.75,9.8),(60.94,9.1),(61.1,9.1),(61.33,9.3),(61.61,8.4),(61.77,8.4),(61.87,8.2),(62.12,9.0),(62.12,7.8),(62.25,8.0),(62.48,7.5),(62.73,8.0),(62.83,7.5),(63.21,6.9),(63.56,7.3),(63.69,8.0),(64.04,7.5),(64.2,8.9),(64.36,8.2),(60.02,7.5),(60.24,8.7),(60.49,8.4),(60.69,7.3),(61.1,6.9),(62.86,6.2),(60.27,6.3),(60.3,5.5),(59.98,3.8),(60.24,3.7),(60.56,3.6),(60.49,3.2),(61.04,4.9),(61.58,5.0),(61.8,5.3),(62.38,4.7),(62.44,3.5),(62.57,3.8),(62.73,3.8),(63.11,4.1),(63.3,4.3),(63.3,3.7),(63.75,4.1),(63.88,4.7),(64.11,4.8),(64.23,4.1),(64.36,4.5),(60.37,2.8),(62.06,2.9),(62.12,1.9),(62.89,2.4),(62.99,1.8),(63.05,1.6),(64.17,2.5),(60.02,1.4),(60.24,0.2),(60.81,0.1),(60.91,0.5),(60.97,1.4),(61.2,1.2),(61.39,1.1),(61.58,0.9),(61.77,0.3),(61.9,0.1),(62.16,0.3),(62.41,0.3),(63.27,0.1),
(60.08,-1.3),(60.37,-0.4),(60.65,-0.4),(63.53,-0.5),(63.88,-0.4),(64.01,-0.9),(64.23,-0.6),(64.3,-1.2),(60.27,-1.1),(60.72,-1.8),(61.07,-1.1),(61.17,-1.5),(61.36,-2.2),(60.84,-2.9),(61.01,-3.0),(61.2,-2.9),(61.33,-2.5),(61.42,-2.9),(61.52,-3.3),(61.26,-3.6),(61.39,-4.3),(61.68,-3.6),(61.87,-3.6),(62.0,-1.2),(62.0,-2.2),(62.32,-2.0),(62.89,-1.3),(63.24,-0.9),(63.75,-1.2),(63.78,-2.3),(63.88,-2.0),(63.21,-3.9),(63.05,-4.0),(63.56,-3.1),(63.62,-4.7),(63.69,-5.0),(64.42,-3.9),(59.98,-4.5),(60.17,-4.3),(60.11,-7.0),(60.4,-6.2),(60.56,-6.4),(60.65,-6.4),(60.62,-5.6),(60.94,-6.2),(61.33,-6.2),(61.77,-5.8),(62.12,-5.0),(62.67,-6.2),(64.23,-7.2),(64.39,-6.6),(61.42,-8.0),(62.09,-8.5),(62.25,-9.1),(62.89,-7.8),(63.27,-8.7),(63.34,-8.5),(63.59,-8.0),(64.07,-9.6),(64.17,-9.6),(64.36,-10.7),(60.53,-9.5),(61.04,-9.1),(60.11,-10.3),(60.56,-10.4),(60.78,-10.4),(61.36,-10.4),(61.52,-10.4),(61.87,-10.6),(61.61,-11.7),(61.68,-12.0),(61.96,-12.5),(62.64,-11.0),(63.11,-12.6),(63.34,-11.7),(63.94,-11.2),(64.01,-12.1),(64.11,-11.9),(60.78,-12.6),(60.81,-15.0),(61.93,-15.7),(62.57,-14.0),(63.02,-16.6),(62.89,-16.7),(60.21,-18.6),(61.8,-19.1),(61.1,-20.0),(62.95,-20.3)]

segments = [seg_a, seg_b, seg_c, seg_d, seg_e, seg_f, seg_g, seg_h, seg_i, seg_j]

x_range = [13.45, 64.54]
y_range = [-0.03, 0.03]
x_ticks = [15, 20, 25, 30, 35, 40, 45, 50, 55, 60]
y_ticks = [-0.03, -0.02, -0.01, 0, 0.01, 0.02, 0.03]
y_tick_text = ["-0.03", "-0.02", "-0.01", "0", "0.01", "0.02", "0.03"]

title_text = "30-Sep-2007 00:13:54 CL L1 NCO phase difference EUM-RUAG. Diff std: 0.01 mm"
x_label = "Time difference since first sample [s]"
y_label = "Phase Difference [mm]"

t_all = [p[0] for s in segments for p in s]
y_all = [p[1] / 1000.0 for s in segments for p in s]   # micrometre -> mm

FONT = "Liberation Sans, Arial, Helvetica, sans-serif"

fig = go.Figure()
fig.add_trace(go.Scatter(
    x=t_all, y=y_all, mode="markers",
    marker=dict(color="#ff0000", size=6.5, line=dict(width=0)),
    hoverinfo="x+y", showlegend=False,
))

W, H = 1152, 542
ML, MR, MT, MB = 80, 3, 38, 50

fig.update_layout(
    width=W, height=H,
    margin=dict(l=ML, r=MR, t=MT, b=MB),
    paper_bgcolor="white", plot_bgcolor="white",
    font=dict(family=FONT, size=16, color="black"),
    title=dict(text=title_text, x=0.5, xref="paper", y=1 - 14 / H, yref="container",
               xanchor="center", yanchor="middle", font=dict(size=17, family=FONT, color="black")),
    showlegend=False,
)
fig.update_xaxes(
    range=x_range, tickvals=x_ticks, ticktext=[str(v) for v in x_ticks],
    showgrid=True, gridcolor="black", gridwidth=1, griddash="9px,5px",
    showline=True, linecolor="black", linewidth=1, mirror="ticks",
    ticks="inside", ticklen=5, tickcolor="black", zeroline=False,
    tickfont=dict(size=16, family=FONT), ticklabelstandoff=1,
)
fig.update_yaxes(
    range=y_range, tickvals=y_ticks, ticktext=y_tick_text,
    showgrid=True, gridcolor="#707070", gridwidth=1, griddash="9px,5px",
    showline=True, linecolor="black", linewidth=1, mirror="ticks",
    ticks="inside", ticklen=5, tickcolor="black", zeroline=False,
    tickfont=dict(size=16, family=FONT),
)
fig.add_annotation(text=x_label, xref="paper", yref="paper", x=0.5, y=-(527 - (H - MB)) / (H - MT - MB),
                   xanchor="center", yanchor="middle", showarrow=False, font=dict(size=18, family=FONT))
fig.add_annotation(text=y_label, xref="paper", yref="paper", x=-(ML - 17) / (W - ML - MR), y=0.5,
                   xanchor="center", yanchor="middle", textangle=-90, showarrow=False,
                   font=dict(size=18, family=FONT))

fig.write_html("out.html")
